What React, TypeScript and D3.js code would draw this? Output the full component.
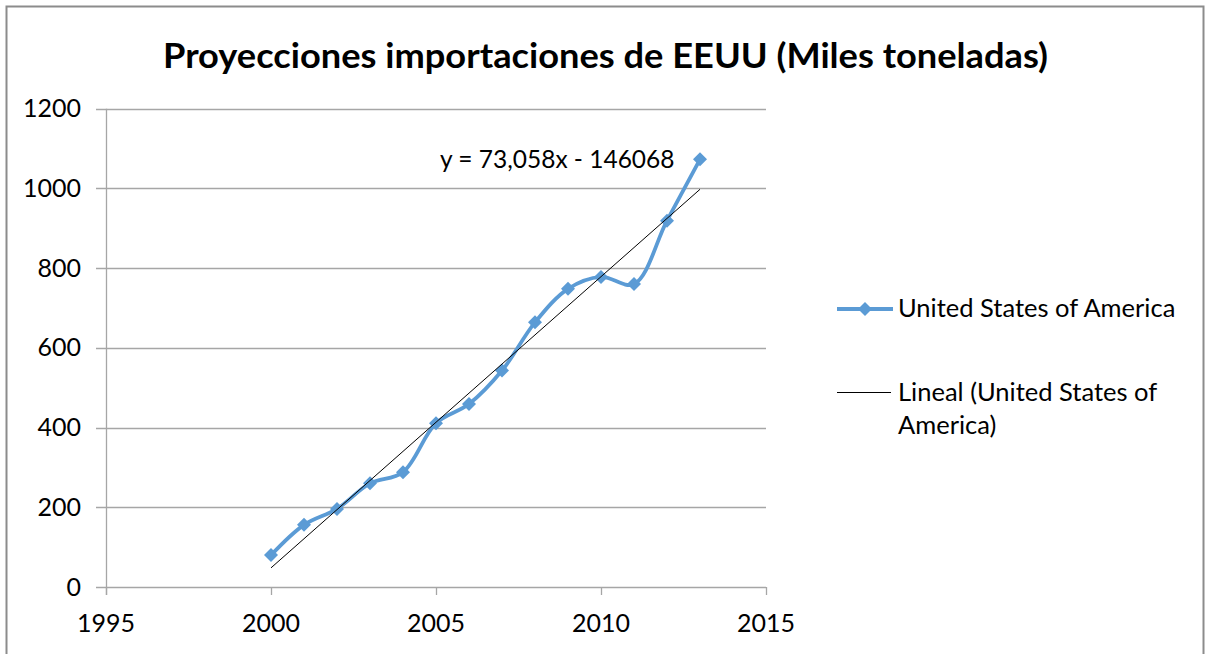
import React from "react";
import * as d3 from "d3";

const years = [2000, 2001, 2002, 2003, 2004, 2005, 2006, 2007, 2008, 2009, 2010, 2011, 2012, 2013];
const imports = [80, 156, 196, 260, 288, 411, 459, 543, 664, 748, 778, 760, 919, 1073];
const xTicks = [1995, 2000, 2005, 2010, 2015];
const yTicks = [0, 200, 400, 600, 800, 1000, 1200];
const trendSlope = 73.058;
const trendIntercept = -146068;
const titleText = "Proyecciones importaciones de EEUU (Miles toneladas)";
const seriesName = "United States of America";
const trendLegend = ["Lineal (United States of", "America)"];
const equationText = "y = 73,058x - 146068";

const W = 1208;
const H = 654;
const FONT = "Lato, 'Open Sans', sans-serif";
const BLUE = "#5B9BD5";
const GRID = "#A6A6A6";

export default function App() {
  const x = d3.scaleLinear().domain([1995, 2015]).range([106, 766]);
  const y = d3.scaleLinear().domain([0, 1200]).range([587, 108.7]);
  const pts: [number, number][] = years.map((yr, i) => [yr, imports[i]]);
  const line = d3
    .line<[number, number]>()
    .x((d) => x(d[0]))
    .y((d) => y(d[1]))
    .curve(d3.curveCatmullRom.alpha(0.5));
  const x0 = years[0];
  const x1 = years[years.length - 1];
  const trendPts: [number, number][] = [
    [x0, trendSlope * x0 + trendIntercept],
    [x1, trendSlope * x1 + trendIntercept],
  ];
  const trendLine = d3
    .line<[number, number]>()
    .x((d) => x(d[0]))
    .y((d) => y(d[1]));
  const dm = 7;
  const diamond = `M0,${-dm}L${dm},0L0,${dm}L${-dm},0Z`;

  return (
    <div style={{ position: "fixed", left: 0, top: 0 }}>
      <svg width={W} height={H} style={{ display: "block" }}>
        <rect x={0} y={0} width={W} height={H} fill="#fff" />
        <rect x={6.5} y={6.5} width={1197} height={H + 20} fill="#fff" stroke="#8C8C8C" strokeWidth={2} />
        <text x={605.5} y={68} textAnchor="middle" textLength={885} lengthAdjust="spacingAndGlyphs" fontFamily={FONT} fontWeight={700} fontSize={34} fill="#000">
          {titleText}
        </text>
        {/* gridlines */}
        {yTicks.map((t) => (
          <line key={"g" + t} x1={96} x2={x(2015)} y1={Math.round(y(t)) + 0.5} y2={Math.round(y(t)) + 0.5} stroke={GRID} strokeWidth={1.3} />
        ))}
        {/* y axis */}
        <line x1={x(1995) + 0.5} x2={x(1995) + 0.5} y1={y(1200)} y2={595} stroke={GRID} strokeWidth={1.3} />
        {xTicks.map((t) => (
          <line key={"xt" + t} x1={Math.round(x(t)) + 0.5} x2={Math.round(x(t)) + 0.5} y1={y(0)} y2={595} stroke={GRID} strokeWidth={1.3} />
        ))}
        {yTicks.map((t) => (
          <text key={"yl" + t} x={81} y={y(t) + 8.5} textAnchor="end" fontFamily={FONT} fontSize={25} fill="#000">
            {t}
          </text>
        ))}
        {xTicks.map((t) => (
          <text key={"xl" + t} x={x(t)} y={632} textAnchor="middle" fontFamily={FONT} fontSize={25} fill="#000">
            {t}
          </text>
        ))}
        {/* series */}
        <path d={line(pts) || ""} fill="none" stroke={BLUE} strokeWidth={3.8} strokeLinejoin="round" />
        {pts.map((d, i) => (
          <path key={"m" + i} d={diamond} transform={`translate(${x(d[0])},${y(d[1])})`} fill={BLUE} />
        ))}
        <path d={trendLine(trendPts) || ""} fill="none" stroke="#000" strokeWidth={1} />
        <text x={440} y={167.5} fontFamily={FONT} fontSize={24.5} fill="#000">
          {equationText}
        </text>
        {/* legend */}
        <line x1={837} x2={893} y1={309} y2={309} stroke={BLUE} strokeWidth={3.8} />
        <path d={diamond} transform="translate(865,309)" fill={BLUE} />
        <text x={898} y={317} fontFamily={FONT} fontSize={25.5} fill="#000">
          {seriesName}
        </text>
        <line x1={837} x2={891} y1={392.5} y2={392.5} stroke="#000" strokeWidth={1.2} />
        {trendLegend.map((s, i) => (
          <text key={"tl" + i} x={898} y={401 + i * 33} fontFamily={FONT} fontSize={25.5} fill="#000">
            {s}
          </text>
        ))}
      </svg>
    </div>
  );
}
